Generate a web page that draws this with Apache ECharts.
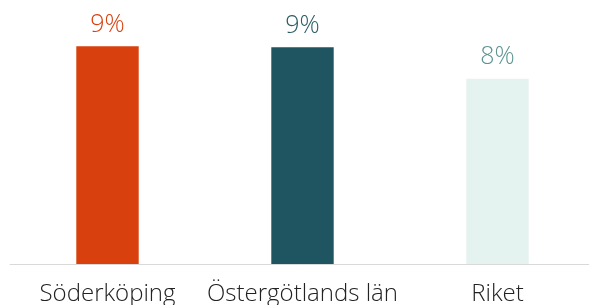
<!DOCTYPE html>
<html>
<head>
<meta charset="utf-8">
<script src="https://cdn.jsdelivr.net/npm/echarts@6/dist/echarts.min.js"></script>
<style>
  html, body { margin: 0; padding: 0; background: #fff; }
  #chart { width: 589px; height: 305px; }
</style>
</head>
<body>
<div id="chart"></div>
<script>
// data
var categories = ["Söderköping", "Östergötlands län", "Riket"];
var values = [9.4, 9.36, 8.0];
var barColors = ["#d8400e", "#1f5560", "#e5f3f0"];
var labelColors = ["#d8400e", "#2a5c64", "#5e9393"];

var chart = echarts.init(document.getElementById("chart"));
chart.setOption({
  animation: false,
  grid: { left: 10, width: 585, top: 0, height: 264, outerBoundsMode: "none", containLabel: false },
  xAxis: {
    type: "category",
    data: categories,
    axisLine: { lineStyle: { color: "#d9d9d9", width: 1 } },
    axisTick: { show: false },
    axisLabel: {
      color: "#222",
      fontSize: 24,
      fontFamily: "Open Sans",
      fontWeight: 300,
      margin: 18,
      interval: 0,
      hideOverlap: false
    }
  },
  yAxis: {
    type: "value",
    min: 0,
    max: 11.4,
    show: false,
    splitLine: { show: false }
  },
  series: [{
    type: "bar",
    barWidth: "32%",
    data: values.map(function (v, i) {
      return {
        value: v,
        itemStyle: { color: barColors[i] },
        label: { color: labelColors[i] }
      };
    }),
    label: {
      show: true,
      position: "top",
      distance: 9,
      fontSize: 25,
      fontFamily: "Open Sans",
      fontWeight: 300,
      formatter: function (p) { return Math.round(p.value) + "%"; }
    }
  }]
});
</script>
</body>
</html>
